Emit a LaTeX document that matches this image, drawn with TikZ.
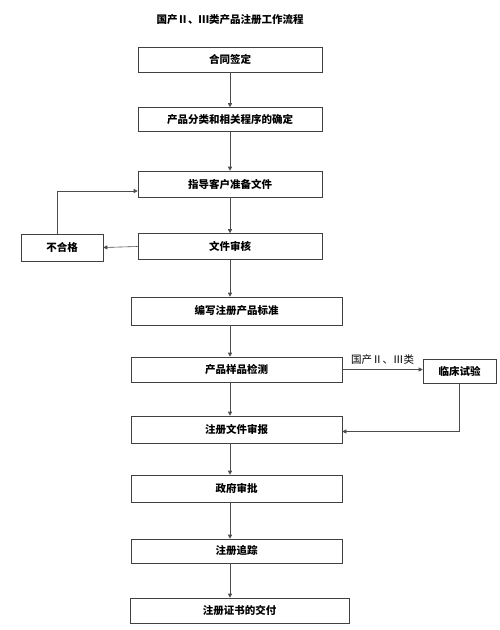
\documentclass[tikz,border=0pt]{standalone}
\usepackage{fontspec}
\newfontfamily\cjk{Noto Sans CJK SC}
\usetikzlibrary{arrows.meta}
\begin{document}
\begin{tikzpicture}[x=1pt, y=-1pt, >={Triangle[length=4pt,width=4pt]},
  every node/.style={font=\cjk\fontsize{10.5}{12}\selectfont},
  stage/.style={draw=black!75, line width=0.6pt, inner sep=0pt, font=\cjk\bfseries\fontsize{10.5}{12}\selectfont},
  flow/.style={->, draw=black!70, line width=0.6pt}]
  \useasboundingbox (0,0) rectangle (500,630);

  % Title
  \node[font=\cjk\bfseries\fontsize{10.5}{12}\selectfont] (title) at (230,20) {国产Ⅱ、Ⅲ类产品注册工作流程};

  % Upper stages
  \node[stage, minimum width=184pt, minimum height=25pt] (b1) at (230,59.5) {合同签定};
  \node[stage, minimum width=184pt, minimum height=24pt] (b2) at (230,119.5) {产品分类和相关程序的确定};
  \node[stage, minimum width=184pt, minimum height=26pt] (b3) at (230,184) {指导客户准备文件};
  \node[stage, minimum width=184pt, minimum height=26pt] (b4) at (230,246.5) {文件审核};
  \node[stage, minimum width=82pt, minimum height=27pt] (nog) at (62,247.5) {不合格};

  % Lower stages
  \node[stage, minimum width=211pt, minimum height=28pt] (b5) at (236.5,311) {编写注册产品标准};
  \node[stage, minimum width=211pt, minimum height=25pt] (b6) at (236.5,369.5) {产品样品检测};
  \node[stage, minimum width=73pt, minimum height=24pt] (lc) at (459.5,371) {临床试验};
  \node[stage, minimum width=211pt, minimum height=27pt] (b7) at (236.5,429.5) {注册文件审报};
  \node[stage, minimum width=211pt, minimum height=27pt] (b8) at (236.5,488.5) {政府审批};
  \node[stage, minimum width=211pt, minimum height=24pt] (b9) at (236.5,551) {注册追踪};
  \node[stage, minimum width=219pt, minimum height=25pt] (b10) at (239.5,610.5) {注册证书的交付};

  % Main flow
  \foreach \from/\to in {b1/b2, b2/b3, b3/b4, b4/b5, b5/b6, b6/b7, b7/b8, b8/b9, b9/b10}
    \draw[flow] (\from.south -| b1) -- (\to.north -| b1);

  % Rejected documents go back
  \draw[flow] (b4.west) -- (nog.east);
  \draw[flow] ([xshift=-5pt]nog.north) |- ([yshift=-7pt]b3.west);

  % Clinical trial branch
  \draw[flow] (b6.east) -- node[above, yshift=1pt] {国产Ⅱ、Ⅲ类} (b6.east -| lc.west);
  \draw[flow] (lc.south) |- ([yshift=-2pt]b7.east);
\end{tikzpicture}
\end{document}
